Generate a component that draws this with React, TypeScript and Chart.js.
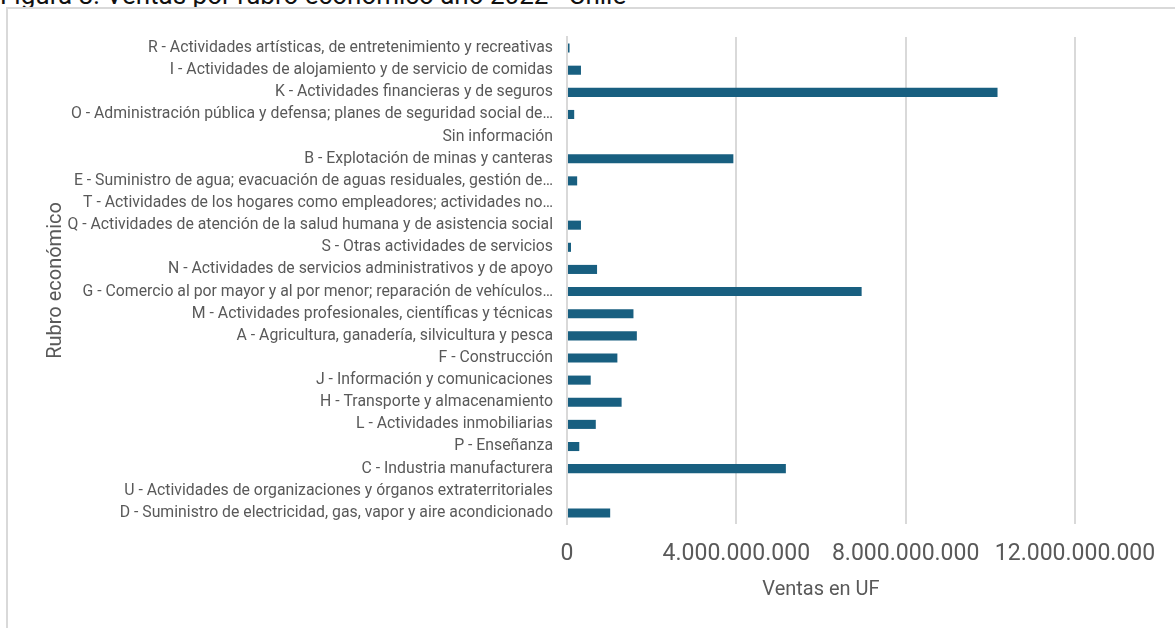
import React, { useEffect, useRef } from "react";
import { Chart, registerables } from "chart.js";

Chart.register(...registerables);

// Economic sectors, listed top to bottom as drawn
const sectors: string[] = [
  "R - Actividades artísticas, de entretenimiento y recreativas",
  "I - Actividades de alojamiento y de servicio de comidas",
  "K - Actividades financieras y de seguros",
  "O - Administración pública y defensa; planes de seguridad social de…",
  "Sin información",
  "B - Explotación de minas y canteras",
  "E - Suministro de agua; evacuación de aguas residuales, gestión de…",
  "T - Actividades de los hogares como empleadores; actividades no…",
  "Q - Actividades de atención de la salud humana y de asistencia social",
  "S - Otras actividades de servicios",
  "N - Actividades de servicios administrativos y de apoyo",
  "G - Comercio al por mayor y al por menor; reparación de vehículos…",
  "M - Actividades profesionales, científicas y técnicas",
  "A - Agricultura, ganadería, silvicultura y pesca",
  "F - Construcción",
  "J - Información y comunicaciones",
  "H - Transporte y almacenamiento",
  "L - Actividades inmobiliarias",
  "P - Enseñanza",
  "C - Industria manufacturera",
  "U - Actividades de organizaciones y órganos extraterritoriales",
  "D - Suministro de electricidad, gas, vapor y aire acondicionado",
];

// Sales in UF for 2022
const ventasUF: number[] = [
  60e6, 330e6, 10.17e9, 170e6, 0, 3.93e9, 240e6, 0, 330e6, 95e6, 710e6,
  6.96e9, 1.57e9, 1.65e9, 1.19e9, 560e6, 1.29e9, 680e6, 290e6, 5.17e9, 0,
  1.02e9,
];

const axisMin = 0;
const axisMax = 12e9;
const axisStep = 4e9;

const titleText = "Figura 8: Ventas por rubro económico año 2022 - Chile";
const xTitle = "Ventas en UF";
const yTitle = "Rubro económico";

const FONT = "Roboto, 'Noto Sans', sans-serif";
const GREY = "#595959";
const GRID = "#d9d9d9";

function formatThousands(v: number): string {
  const s = Math.round(v).toString();
  return s.replace(/\B(?=(\d{3})+(?!\d))/g, ".");
}

export default function App() {
  const canvasRef = useRef<HTMLCanvasElement | null>(null);

  useEffect(() => {
    const canvas = canvasRef.current;
    if (!canvas) return;
    const chart = new Chart(canvas, {
      type: "bar",
      data: {
        labels: sectors,
        datasets: [
          {
            data: ventasUF,
            backgroundColor: "#185f80",
            borderWidth: 0,
            categoryPercentage: 1,
            barPercentage: 0.41,
          },
        ],
      },
      options: {
        indexAxis: "y",
        animation: false,
        responsive: false,
        maintainAspectRatio: false,
        devicePixelRatio: 1,
        layout: { padding: { left: 44, right: 100, top: 37, bottom: 26 } },
        plugins: {
          legend: { display: false },
          tooltip: { enabled: false },
          title: { display: false },
        },
        scales: {
          x: {
            type: "linear",
            min: axisMin,
            max: axisMax,
            ticks: {
              stepSize: axisStep,
              maxRotation: 0,
              padding: 16,
              color: GREY,
              font: { family: FONT, size: 23 },
              callback: (v: any) => formatThousands(Number(v)),
            },
            grid: {
              color: GRID,
              lineWidth: 2,
              drawTicks: false,
            },
            border: { display: false },
            title: {
              display: true,
              text: xTitle,
              color: GREY,
              font: { family: FONT, size: 20 },
              padding: { top: 0, bottom: 0 },
            },
            afterFit: (scale: any) => {
              scale.height = 78;
            },
          },
          y: {
            type: "category",
            ticks: {
              autoSkip: false,
              padding: 14,
              color: GREY,
              font: { family: FONT, size: 15.8 },
            },
            grid: { display: false, drawTicks: false },
            border: { display: true, color: GRID, width: 2 },
            title: {
              display: true,
              text: yTitle,
              color: GREY,
              font: { family: FONT, size: 20 },
              padding: { top: 0, bottom: 0 },
            },
            afterFit: (scale: any) => {
              scale.width = 523;
            },
          },
        },
      },
    });
    return () => chart.destroy();
  }, []);

  return (
    <div
      style={{
        position: "fixed",
        left: 0,
        top: 0,
        width: 1175,
        height: 628,
        overflow: "hidden",
        background: "#ffffff",
      }}
    >
      <div
        style={{
          position: "absolute",
          left: 0,
          top: -18,
          fontFamily: FONT,
          fontSize: 26,
          lineHeight: "26px",
          color: "#111111",
          whiteSpace: "nowrap",
        }}
      >
        {titleText}
      </div>
      <div
        style={{
          position: "absolute",
          left: 6,
          top: 7,
          width: 1200,
          height: 700,
          border: `2px solid ${GRID}`,
          boxSizing: "border-box",
        }}
      />
      <canvas
        ref={canvasRef}
        width={1175}
        height={628}
        style={{ position: "absolute", left: 0, top: 0, width: 1175, height: 628 }}
      />
    </div>
  );
}
